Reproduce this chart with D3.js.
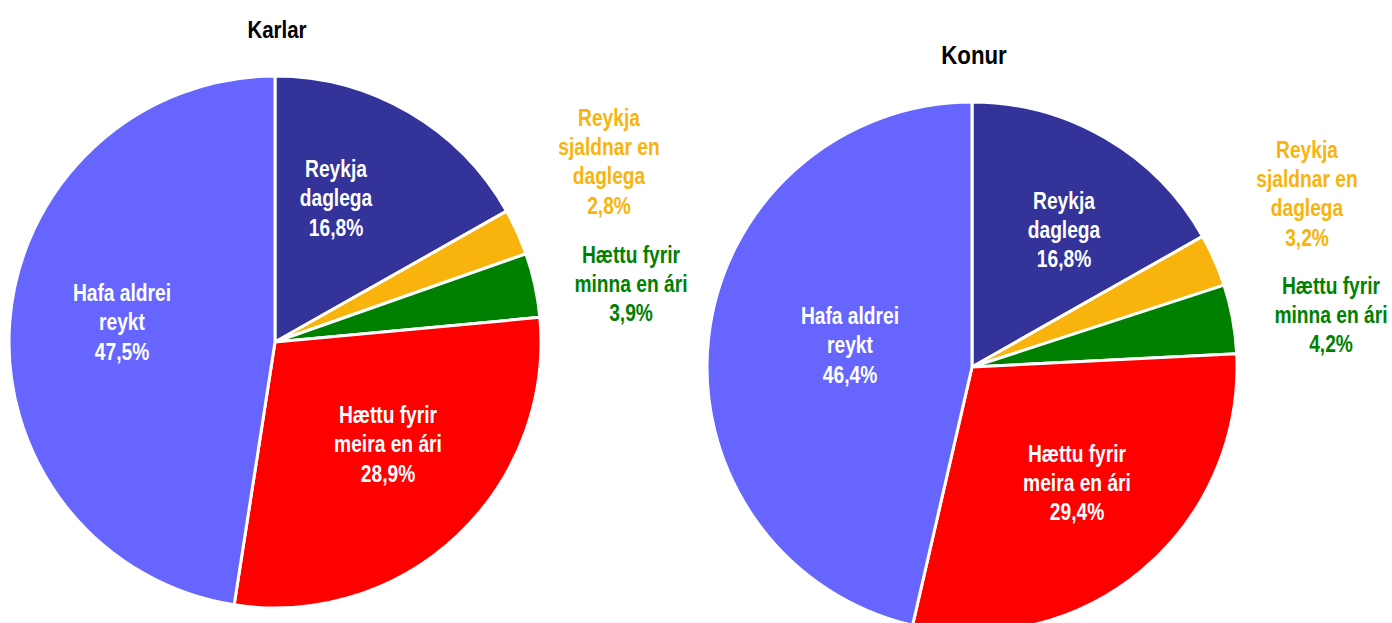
<!DOCTYPE html>
<html>
<head>
<meta charset="utf-8">
<script src="https://cdn.jsdelivr.net/npm/d3@7"></script>
<style>
  html, body { margin: 0; padding: 0; background: #fff; }
  svg text { font-family: "Liberation Sans Narrow", "Arial Narrow", "Liberation Sans", sans-serif; font-weight: bold; }
</style>
</head>
<body>
<svg id="chart" width="1392" height="623"></svg>
<script>
// Smoking status shares (%), by sex
const categories = ["Reykja daglega", "Reykja sjaldnar en daglega", "Hættu fyrir minna en ári", "Hættu fyrir meira en ári", "Hafa aldrei reykt"];
const karlarValues = [16.8, 2.8, 3.9, 28.9, 47.5];
const konurValues  = [16.8, 3.2, 4.2, 29.4, 46.4];
const panelTitles = ["Karlar", "Konur"];

// Label text lines for each category (value line appended)
const labelLines = [
  ["Reykja", "daglega"],
  ["Reykja", "sjaldnar en", "daglega"],
  ["Hættu fyrir", "minna en ári"],
  ["Hættu fyrir", "meira en ári"],
  ["Hafa aldrei", "reykt"]
];

const colors = ["#333399", "#F8B40C", "#008000", "#FF0000", "#6666FF"];
const textColors = ["#ffffff", "#F8B40C", "#008000", "#ffffff", "#ffffff"];

const svg = d3.select("#chart");
const fmt = v => d3.format(".1f")(v).replace(".", ",") + "%";

// Condensed look: squeeze glyphs horizontally
const squeeze = 0.835;
const titleSqueeze = 0.89;

// Layout for each panel: centre, radius, title position, label anchors (first line centre)
const panels = [
  {
    title: panelTitles[0], values: karlarValues,
    cx: 275, cy: 342, r: 266, titleX: 277, titleY: 30, titleSize: 23,
    labels: [[336, 169], [609, 117.5], [631, 254.5], [388, 415], [122, 293]]
  },
  {
    title: panelTitles[1], values: konurValues,
    cx: 972, cy: 367, r: 265, titleX: 974, titleY: 56, titleSize: 25,
    labels: [[1064, 200.5], [1307, 149.5], [1331, 285.5], [1077, 453.5], [850, 316]]
  }
];

const lineGap = 29.3;

panels.forEach(p => {
  const pie = d3.pie().sort(null).value(d => d)(p.values);
  const arc = d3.arc().innerRadius(0).outerRadius(p.r);
  const g = svg.append("g").attr("transform", `translate(${p.cx},${p.cy})`);

  g.selectAll("path")
    .data(pie)
    .join("path")
    .attr("d", arc)
    .attr("fill", (d, i) => colors[i])
    .attr("stroke", "#ffffff")
    .attr("stroke-width", 3)
    .attr("stroke-linejoin", "round");

  svg.append("text")
    .attr("transform", `translate(${p.titleX},${p.titleY}) scale(${titleSqueeze},1)`)
    .attr("text-anchor", "middle")
    .attr("dominant-baseline", "central")
    .attr("font-size", p.titleSize)
    .attr("fill", "#000")
    .text(p.title);

  p.values.forEach((v, i) => {
    const lines = labelLines[i].concat([fmt(v)]);
    const t = svg.append("text")
      .attr("transform", `translate(${p.labels[i][0]},${p.labels[i][1]}) scale(${squeeze},1)`)
      .attr("text-anchor", "middle")
      .attr("font-size", 23)
      .attr("fill", textColors[i]);
    lines.forEach((ln, k) => {
      t.append("tspan")
        .attr("x", 0)
        .attr("y", k * lineGap)
        .attr("dominant-baseline", "central")
        .text(ln);
    });
  });
});
</script>
</body>
</html>
